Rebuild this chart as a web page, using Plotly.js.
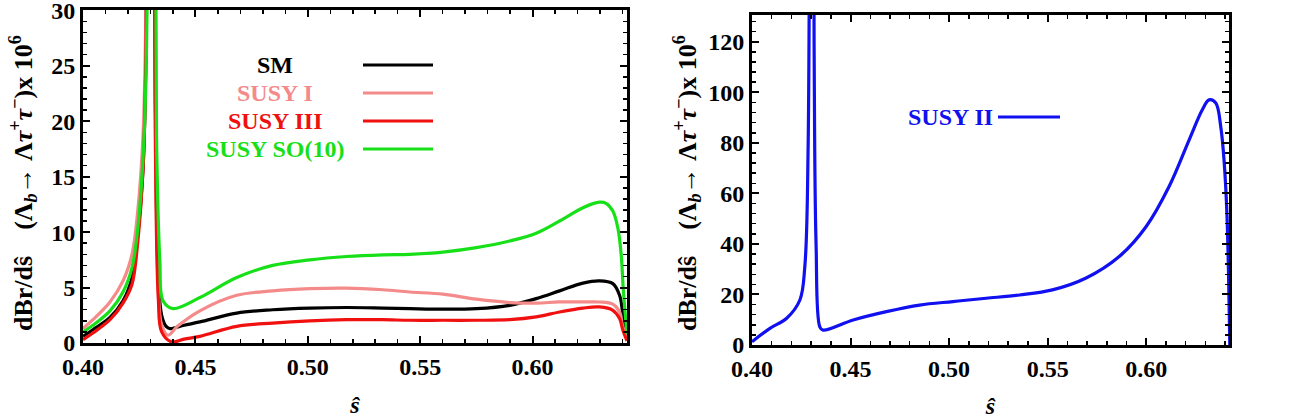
<!DOCTYPE html>
<html>
<head>
<meta charset="utf-8">
<script src="https://cdn.plot.ly/plotly-3.0.1.min.js"></script>
<style>html,body{margin:0;padding:0;background:#fff;}#chart{width:1308px;height:419px;}</style>
</head>
<body>
<div id="chart"></div>
<script>
// ---- Left panel data (s-hat, dBr/ds x 10^6) ----
const smX = [0.400,0.4044,0.412,0.4178,0.4218,0.4244,0.4267,0.4280,0.4292,0.4300,0.4310,0.4322,0.4335,0.4350,0.4370,0.4387,0.445,0.452,0.4684,0.4844,0.5009,0.5173,0.5333,0.5453,0.5601,0.5750,0.5898,0.6016,0.6120,0.6224,0.6298,0.6357,0.6387,0.6401,0.6420];
const smY = [0.6,1.2,2.3,3.8,5.9,9.8,15.7,26,60,300,60,22,6,2.5,1.5,1.3,1.6,1.9,2.7,3.0,3.15,3.2,3.15,3.1,3.05,3.1,3.4,4.0,4.7,5.4,5.6,5.35,4.3,2.7,0.4];

const susy1X = [0.400,0.4044,0.412,0.4178,0.4218,0.4244,0.4267,0.4280,0.4292,0.4300,0.4310,0.4322,0.4335,0.4350,0.4378,0.442,0.452,0.4684,0.4844,0.5009,0.5173,0.5333,0.5453,0.5601,0.5750,0.5898,0.6016,0.6120,0.6224,0.6298,0.6357,0.6387,0.6401,0.6420];
const susy1Y = [1.3,2.1,3.7,5.6,8.0,12,18.7,30,70,300,60,20,5,1.6,0.7,1.5,2.9,4.3,4.7,4.9,4.95,4.8,4.6,4.4,3.95,3.65,3.6,3.7,3.7,3.7,3.5,2.8,1.5,0.4];

const susy3X = [0.400,0.4044,0.412,0.4178,0.4218,0.4244,0.4267,0.4280,0.4292,0.4300,0.4310,0.4322,0.4335,0.4350,0.4394,0.445,0.452,0.4684,0.4844,0.5009,0.5173,0.5333,0.5453,0.5601,0.5750,0.5898,0.6016,0.6120,0.6224,0.6298,0.6357,0.6387,0.6401,0.6420];
const susy3Y = [0.3,0.9,2.1,3.6,5.3,9.2,15.7,26,60,300,60,18,4,1.0,0.1,0.35,0.6,1.5,1.8,2.0,2.1,2.1,2.05,2.05,2.05,2.1,2.35,2.8,3.15,3.25,2.95,2.2,1.2,0.2];

const so10X = [0.400,0.4044,0.412,0.4178,0.4218,0.4244,0.4272,0.4285,0.4293,0.4300,0.4315,0.4327,0.4342,0.4356,0.4400,0.452,0.4684,0.4844,0.5009,0.5173,0.5333,0.5453,0.5601,0.5750,0.5898,0.6016,0.6120,0.6224,0.6298,0.6327,0.6357,0.6379,0.6394,0.6404,0.6420];
const so10Y = [1.0,1.6,2.9,4.6,6.8,10.4,18.7,30,80,300,80,18.7,7.4,3.8,3.1,4.1,5.9,7.0,7.5,7.8,7.95,8.0,8.2,8.6,9.2,9.9,11.0,12.2,12.7,12.6,11.9,10.4,8.0,4.7,0.8];

// ---- Right panel data ----
const susy2X = [0.400,0.4091,0.4176,0.4243,0.4268,0.4285,0.4300,0.4315,0.4325,0.4344,0.4360,0.4513,0.4682,0.4850,0.5019,0.5188,0.5357,0.5524,0.5695,0.5863,0.6000,0.6116,0.6218,0.6284,0.6319,0.6353,0.6378,0.6395,0.6410,0.6424];
const susy2Y = [1.3,6.6,10.6,17.8,31,80,600,120,40,7.2,5.9,9.9,13.2,15.8,17.2,18.5,19.8,21.8,26.5,35,46.9,62.7,81.2,93,97,95.8,86.5,73,50.8,0];

const leftNames = ['SM','SUSY I','SUSY III','SUSY SO(10)'];
const leftColors = ['#000000','#F48A8A','#F01010','#18E018'];
const rightNames = ['SUSY II'];
const rightColors = ['#1010F0'];

// tick spacing (major / minor)
const xTick0 = 0.40, xDtick = 0.05, xMinor = 0.01;
const yLeftDtick = 5, yLeftMinor = 1;
const yRightDtick = 20, yRightMinor = 4;

const leftSeries = [[smX,smY],[susy1X,susy1Y],[susy3X,susy3Y],[so10X,so10Y]];

const FONT = 'Liberation Serif, Times New Roman, serif';
const W = 1308, H = 419;

const traces = [];
leftSeries.forEach((s,i)=>{
  traces.push({x:s[0], y:s[1], type:'scatter', mode:'lines', name:leftNames[i],
    line:{color:leftColors[i], width:3.2, shape:'spline', smoothing:1.0},
    xaxis:'x', yaxis:'y', showlegend:false, hoverinfo:'skip'});
});
traces.push({x:susy2X, y:susy2Y, type:'scatter', mode:'lines', name:rightNames[0],
  line:{color:rightColors[0], width:3.2, shape:'spline', smoothing:1.0},
  xaxis:'x2', yaxis:'y2', showlegend:false, hoverinfo:'skip'});

const tickFont = {family:FONT, size:24, weight:'bold', color:'#000'};
const yTitleText = '<b>dBr/dŝ&nbsp;&nbsp;&nbsp;&nbsp;(Λ<sub><i>b</i></sub>→ Λ<i>τ</i><sup>+</sup><i>τ</i><sup>−</sup>)x 10<sup>6</sup></b>';

function xAxis(domain, anchor){
  return {domain:domain, anchor:anchor, range:[0.40,0.642], tickmode:'linear', tick0:xTick0, dtick:xDtick, tickformat:'.2f',
    ticks:'inside', ticklen:7, tickwidth:2, tickcolor:'#000', ticklabeloverflow:'allow',
    showline:true, linewidth:3, linecolor:'#000', mirror:'allticks',
    minor:{ticks:'inside', ticklen:4, tickwidth:1.5, tickcolor:'#000', dtick:xMinor, tick0:xTick0, showgrid:false},
    showgrid:false, zeroline:false, tickfont:tickFont,
    title:{text:'<i>ŝ</i>', font:{family:FONT, size:24, weight:'bold', color:'#000'}, standoff:18},
    automargin:false, fixedrange:true};
}
function yAxis(domain, range, dt, minorD, anchor){
  return {domain:domain, range:range, anchor:anchor, tickmode:'linear', tick0:0, dtick:dt,
    ticks:'inside', ticklen:7, tickwidth:2, tickcolor:'#000', ticklabeloverflow:'allow',
    showline:true, linewidth:3, linecolor:'#000', mirror:'allticks',
    minor:{ticks:'inside', ticklen:4, tickwidth:1.5, tickcolor:'#000', dtick:minorD, tick0:0, showgrid:false},
    showgrid:false, zeroline:false, tickfont:tickFont,
    automargin:false, fixedrange:true};
}

const annotations = [];
const shapes = [];
const legRowsY = [65,93,121,149];
leftNames.forEach((n,i)=>{
  annotations.push({xref:'paper', yref:'paper', x:275/W, y:1-legRowsY[i]/H, xanchor:'center', yanchor:'middle',
    text:'<b>'+n+'</b>', showarrow:false, font:{family:FONT, size:24, color:leftColors[i]}});
  shapes.push({type:'line', xref:'paper', yref:'paper', x0:363/W, x1:433/W, y0:1-legRowsY[i]/H, y1:1-legRowsY[i]/H,
    line:{color:leftColors[i], width:3.2}});
});
annotations.push({xref:'paper', yref:'paper', x:950/W, y:1-117/H, xanchor:'center', yanchor:'middle',
  text:'<b>'+rightNames[0]+'</b>', showarrow:false, font:{family:FONT, size:24, color:rightColors[0]}});
shapes.push({type:'line', xref:'paper', yref:'paper', x0:998/W, x1:1060/W, y0:1-117/H, y1:1-117/H,
  line:{color:rightColors[0], width:3.2}});

// y-axis titles (rotated)
[[23,183],[687,183]].forEach(p=>{
  annotations.push({xref:'paper', yref:'paper', x:p[0]/W, y:1-p[1]/H, xanchor:'center', yanchor:'middle',
    text:yTitleText, textangle:-90, showarrow:false, font:{family:FONT, size:26, color:'#000'}});
});

const leftDom = {x:[83/W, 627/W], y:[(H-343)/H, (H-10)/H]};
const rightDom = {x:[752/W, 1229/W], y:[(H-345)/H, (H-15)/H]};

const layout = {
  width:W, height:H, margin:{l:0,r:0,t:0,b:0,pad:0}, paper_bgcolor:'#fff', plot_bgcolor:'#fff',
  showlegend:false,
  xaxis: xAxis(leftDom.x, 'y'),
  yaxis: yAxis(leftDom.y, [0,30.03], yLeftDtick, yLeftMinor, 'x'),
  xaxis2: xAxis(rightDom.x, 'y2'),
  yaxis2: yAxis(rightDom.y, [0,130.6], yRightDtick, yRightMinor, 'x2'),
  annotations: annotations, shapes: shapes
};

Plotly.newPlot('chart', traces, layout, {staticPlot:true, displayModeBar:false});
</script>
</body>
</html>
